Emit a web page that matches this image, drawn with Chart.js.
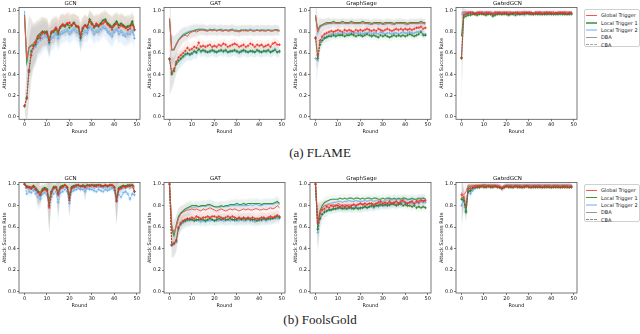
<!DOCTYPE html>
<html>
<head>
<meta charset="utf-8">
<script src="https://cdn.jsdelivr.net/npm/chart.js"></script>
<style>
  body { margin: 0; background: #fff; width: 640px; height: 334px; overflow: hidden; position: relative; font-family: "DejaVu Sans", sans-serif; }
  canvas { position: absolute; }
  .caption { position: absolute; left: 0; width: 640px; text-align: center; font-family: "Liberation Serif", "Times New Roman", serif; font-size: 13px; line-height: 15px; color: #1a1a1a; }
  .legend { position: absolute; left: 584px; width: 56px; height: 38px; box-sizing: border-box; border: 1px solid #d0d0d0; border-radius: 2px; padding-top: 1.5px; background: #fff; font-size: 5px; color: #222; }
  .legend div { height: 7.35px; display: flex; align-items: center; white-space: nowrap; }
  .sw { display: inline-block; width: 11px; margin: 0 4px 0 1px; }
</style>
</head>
<body>
<div class="legend" style="top:9px">
  <div><span class="sw" style="border-top:1px solid #f25a50"></span>Global Trigger</div>
  <div><span class="sw" style="border-top:2px solid #6aaa6a"></span>Local Trigger 1</div>
  <div><span class="sw" style="border-top:2px solid #b4d6f6"></span>Local Trigger 2</div>
  <div><span class="sw" style="border-top:1px solid #999"></span>DBA</div>
  <div><span class="sw" style="border-top:1px dashed #aaa"></span>CBA</div>
</div>
<div class="legend" style="top:184px">
  <div><span class="sw" style="border-top:1px solid #f25a50"></span>Global Trigger</div>
  <div><span class="sw" style="border-top:1.5px solid #3c963c"></span>Local Trigger 1</div>
  <div><span class="sw" style="border-top:2px solid #b4d6f6"></span>Local Trigger 2</div>
  <div><span class="sw" style="border-top:1px solid #999"></span>DBA</div>
  <div><span class="sw" style="border-top:1px dashed #888"></span>CBA</div>
</div>
<div class="caption" style="top:145px">(a) FLAME</div>
<div class="caption" style="top:312px">(b) FoolsGold</div>

<script>
// rounds and ticks
const rounds = [0,1,2,3,4,5,6,7,8,9, 10,11,12,13,14,15,16,17,18,19, 20,21,22,23,24,25,26,27,28,29,
  30,31,32,33,34,35,36,37,38,39, 40,41,42,43,44,45,46,47,48,49];
const xTicks = [0, 10, 20, 30, 40, 50];
const yTicks = [0, 0.2, 0.4, 0.6, 0.8, 1.0];
const modelTitles = ['GCN', 'GAT', 'GraphSage', 'GatedGCN'];

// ---- (a) FLAME, values in percent ----
const fl_gcn_global_cba = [10,17,44,58,66,70,76,74,79,80, 78,72,80,81,84,80,85,87,86,88, 89,86,88,86,85,76,84,86,85,90, 87,85,88,86,87,88,90,87,85,82, 86,88,84,86,85,84,82,83,87,82];
const fl_gcn_local1_cba = [10,18,43,62,67,68,74,77,80,79, 80,70,79,80,82,78,84,86,85,87, 84,86,89,85,84,74,83,86,84,92, 88,84,86,85,88,91,92,88,86,84, 87,90,86,88,86,84,85,86,90,82];
const fl_gcn_local2_cba = [10,17,42,60,64,66,70,72,74,76, 75,68,74,75,78,74,78,79,80,81, 78,80,82,80,79,72,78,80,79,84, 82,78,80,80,82,84,83,80,78,76, 80,82,78,80,77,76,78,78,80,74];
const fl_gcn_global_dba = [95,55,66,68,68,72,76,78,80,81, 80,74,80,82,85,82,86,88,87,89, 88,87,88,86,86,78,85,87,86,91, 88,86,88,87,88,89,90,88,86,84, 86,89,86,87,86,85,84,85,88,84];
const fl_gcn_local1_dba = [96,52,65,67,69,72,77,79,81,80, 81,73,81,81,84,80,85,87,86,88, 86,87,89,86,85,77,84,87,85,92, 89,85,87,86,89,91,92,89,87,85, 88,90,87,88,87,85,86,86,90,84];
const fl_gcn_local2_dba = [100,50,66,67,67,70,73,75,77,78, 77,70,76,77,80,76,80,81,82,83, 80,82,84,82,81,74,80,82,81,86, 84,80,82,82,84,86,85,82,80,78, 82,84,80,82,79,78,80,80,82,76];
const fl_gcn_std = [5,25,30,25,20,18,15,15,14,13, 13,14,12,12,11,12,11,10,10,10, 10,10,9,10,10,12,10,10,9,9, 10,10,9,10,10,9,9,10,10,11, 10,9,10,10,10,10,11,10,9,10];

const fl_gat_global_cba = [55,42,45,52,56,58,60,62,65,63, 64,66,65,70,66,67,66,67,68,66, 67,66,68,67,69,68,66,67,68,69, 68,66,67,68,66,67,69,68,66,68, 67,68,66,67,68,66,69,70,68,68];
const fl_gat_local1_cba = [54,40,43,50,53,55,57,59,60,59, 60,62,61,64,62,63,62,61,62,63, 62,61,62,63,62,63,61,62,62,63, 62,61,62,63,62,61,62,62,61,63, 62,61,62,62,63,61,62,63,61,62];
const fl_gat_local2_cba = [55,41,44,50,52,54,56,58,59,58, 59,61,60,63,61,62,61,61,61,62, 61,61,62,62,61,62,61,61,62,62, 61,60,61,62,61,61,62,61,61,62, 61,61,62,61,62,61,62,64,61,61];
const fl_gat_global_dba = [93,63,64,68,72,74,76,77,76,79, 80,81,80,81,82,82,81,81,82,81, 82,81,82,81,81,82,81,81,82,81, 81,80,81,82,81,81,82,81,81,82, 81,81,82,81,82,81,81,82,81,81];
const fl_gat_local1_dba = [92,63,63,68,72,75,77,78,79,80, 81,81,82,82,82,82,82,81,82,82, 82,81,82,82,81,82,81,82,82,81, 81,81,82,81,82,81,82,81,81,82, 81,82,81,81,82,81,81,82,82,81];
const fl_gat_local2_dba = [93,63,64,69,73,75,78,79,80,81, 81,82,82,83,83,83,82,82,83,82, 83,82,82,83,82,82,82,82,83,82, 82,81,82,82,82,82,83,82,82,82, 82,82,82,82,82,82,82,82,82,82];
const fl_gat_std = [35,15,12,10,8,8,7,7,6,6, 6,6,6,5,5,5,5,5,5,5, 5,5,5,5,5,5,5,5,5,5, 5,5,5,5,5,5,5,5,5,5, 5,5,5,5,5,5,5,5,5,5];

const fl_sage_global_cba = [75,58,72,76,78,79,80,81,80,81, 82,81,80,82,81,82,81,80,82,81, 82,81,82,83,82,81,82,81,83,82, 81,82,83,82,81,82,83,82,83,82, 83,82,83,82,83,84,84,85,83,84];
const fl_sage_local1_cba = [74,55,68,72,74,75,76,76,77,76, 77,77,77,76,77,77,78,77,76,77, 77,76,77,78,77,76,77,76,75,77, 76,77,76,75,76,77,76,77,76,77, 76,77,78,77,76,77,78,80,77,77];
const fl_sage_local2_cba = [55,53,70,74,75,76,77,78,78,78, 79,78,78,79,78,79,79,78,79,79, 79,78,79,79,80,78,79,79,78,80, 79,78,79,79,78,79,79,78,79,80, 79,79,80,79,79,80,80,81,78,78];
const fl_sage_global_dba = [96,80,85,86,87,88,88,88,89,88, 88,88,89,88,88,88,89,88,88,88, 88,89,88,88,88,87,88,88,88,88, 87,88,88,88,88,87,88,88,88,88, 88,87,88,88,88,88,88,89,88,88];
const fl_sage_local1_dba = [95,82,86,87,88,89,89,89,90,89, 89,89,90,89,89,89,90,89,89,89, 89,90,89,89,89,88,89,89,89,89, 88,89,89,89,89,88,89,89,89,89, 89,88,89,89,89,89,89,90,89,89];
const fl_sage_local2_dba = [96,78,84,86,87,87,88,88,88,88, 88,88,88,88,88,88,88,88,88,88, 88,88,88,88,87,87,88,88,87,88, 87,87,88,88,87,87,88,88,88,88, 87,87,88,88,88,88,88,88,88,87];
const fl_sage_std = [25,12,8,6,5,5,5,4,4,4, 4,4,4,4,4,4,4,4,4,4, 4,4,4,4,4,4,4,4,4,4, 4,4,4,4,4,4,4,4,4,4, 4,4,4,4,4,4,4,4,4,4];

const fl_ggcn_global_cba = [56,96,97,98,98,98,97,98,98,98, 97,98,98,97,97,98,98,98,97,98, 98,97,98,98,98,98,97,98,98,98, 98,98,97,98,98,98,97,98,98,98, 98,97,98,98,98,98,98,97,98,98];
const fl_ggcn_local1_cba = [55,94,95,96,96,97,97,96,97,97, 97,96,97,97,95,96,97,97,97,97, 97,96,97,97,96,97,97,97,97,98, 97,97,97,97,97,97,97,97,97,97, 97,97,97,97,97,97,97,97,97,97];
const fl_ggcn_local2_cba = [56,98,97,97,98,98,97,97,98,98, 97,97,98,97,97,98,97,98,97,98, 97,97,98,97,98,97,97,98,97,97, 98,97,97,98,97,97,98,97,97,98, 97,98,97,97,98,97,97,98,97,97];
const fl_ggcn_global_dba = [98,99,99,99,99,99,98,99,99,99, 99,99,99,99,98,99,99,99,99,99, 99,99,99,98,99,99,99,99,99,99, 99,99,98,99,99,99,99,99,99,99, 99,99,98,99,99,99,99,99,99,99];
const fl_ggcn_local1_dba = [76,97,98,98,98,98,97,98,98,98, 98,97,98,98,96,97,98,98,98,98, 98,98,97,98,98,98,98,98,97,98, 98,98,98,98,98,98,98,98,98,98, 98,98,98,98,98,98,98,98,98,98];
const fl_ggcn_local2_dba = [96,99,98,98,99,99,98,98,99,99, 98,99,98,99,98,99,98,99,98,99, 98,99,98,99,98,99,98,98,99,98, 99,98,98,99,98,99,98,98,99,98, 98,99,98,98,99,98,99,98,98,99];
const fl_ggcn_std = [45,4,3,2,2,2,2,2,2,2, 2,2,2,2,3,2,2,2,2,2, 2,2,2,2,2,2,2,2,3,2, 2,2,2,2,2,2,2,2,2,2, 2,2,2,2,2,2,2,2,2,2];

// ---- (b) FoolsGold, values in percent ----
const fg_gcn_global_cba = [100,97,97,96,98,95,92,90,94,95, 94,78,92,96,97,90,96,97,99,97, 85,96,97,98,99,98,98,97,99,98, 99,98,98,99,98,98,99,98,99,99, 97,84,95,96,98,97,98,98,99,93];
const fg_gcn_local1_cba = [100,98,97,96,98,95,93,90,94,96, 95,80,93,97,97,91,97,98,99,97, 87,97,98,99,99,98,99,98,99,99, 99,99,99,99,99,98,99,98,99,99, 97,85,96,97,98,98,99,99,99,93];
const fg_gcn_local2_cba = [100,91,93,92,94,91,88,86,91,92, 90,80,88,91,93,83,92,93,95,93, 82,93,94,95,96,95,95,93,96,95, 95,94,93,95,94,93,95,94,95,96, 94,84,90,88,92,93,91,86,91,90];
const fg_gcn_global_dba = [100,98,97,98,97,96,93,91,95,96, 95,82,93,97,98,92,97,98,99,98, 88,97,98,99,99,98,99,97,99,98, 99,98,99,99,99,98,99,98,99,99, 98,86,96,97,98,98,99,98,99,97];
const fg_gcn_local1_dba = [100,98,98,97,99,97,94,92,96,97, 96,85,94,98,98,93,98,99,99,98, 90,98,99,99,99,98,99,98,99,99, 99,99,99,99,99,98,99,99,99,99, 98,87,97,98,99,98,99,99,99,98];
const fg_gcn_local2_dba = [100,96,95,95,96,94,91,88,93,94, 93,82,91,95,96,89,95,96,97,96, 86,95,96,97,97,96,97,95,97,96, 97,96,97,97,97,96,97,96,97,97, 96,85,94,95,96,96,97,96,97,95];
const fg_gcn_std = [1,3,4,4,3,5,12,8,5,4, 6,25,8,4,3,20,5,3,2,3, 15,4,3,2,2,3,2,10,2,2, 2,3,2,2,2,3,2,2,2,2, 4,22,5,4,3,3,2,4,2,5];

const fg_gat_global_cba = [100,43,45,48,60,64,66,67,68,68, 69,68,70,69,68,69,69,70,69,70, 70,69,70,69,68,69,70,69,70,69, 68,69,68,69,68,69,68,69,68,68, 68,69,69,68,69,70,69,70,71,70];
const fg_gat_local1_cba = [100,44,45,47,59,63,65,66,67,67, 67,66,67,67,67,67,66,67,68,67, 66,67,68,67,68,67,67,68,67,67, 67,68,67,68,67,68,67,67,67,66, 67,67,68,67,68,68,68,69,70,69];
const fg_gat_local2_cba = [100,43,44,46,58,62,64,65,66,66, 67,66,66,66,65,66,65,66,66,67, 66,66,66,67,66,66,67,66,67,66, 66,66,67,66,66,67,66,66,65,66, 66,66,67,66,67,67,68,68,68,68];
const fg_gat_global_dba = [100,62,55,60,68,72,74,75,76,76, 77,76,77,76,75,77,76,77,78,77, 76,75,76,77,76,75,76,77,76,77, 76,75,76,77,76,77,76,76,77,77, 76,76,77,76,77,78,77,78,80,78];
const fg_gat_local1_dba = [100,58,52,62,70,73,75,77,78,79, 80,80,80,79,80,80,80,81,81,80, 79,79,79,80,79,80,80,81,81,81, 82,81,81,82,81,82,82,82,82,82, 82,81,82,82,82,82,82,83,84,82];
const fg_gat_local2_dba = [100,60,54,61,70,73,74,76,77,78, 78,78,79,79,79,80,79,80,80,80, 79,78,78,79,79,79,79,80,80,80, 80,80,80,80,80,80,81,80,81,81, 80,80,81,81,81,81,81,82,83,81];
const fg_gat_std = [1,12,12,10,8,7,6,6,6,6, 5,5,5,5,5,5,5,5,5,5, 5,5,5,5,5,5,5,5,5,5, 5,5,5,5,5,5,5,5,5,5, 5,5,5,5,5,5,5,5,5,5];

const fg_sage_global_cba = [100,64,72,76,77,79,78,80,79,80, 80,79,80,79,80,79,80,81,80,81, 82,81,82,81,82,82,81,82,83,84, 82,83,82,84,82,83,84,82,84,85, 83,82,83,84,82,84,83,85,84,85];
const fg_sage_local1_cba = [100,58,68,72,74,75,76,76,77,77, 78,78,77,78,77,78,78,77,78,77, 78,78,79,78,79,80,79,80,80,81, 80,81,80,81,82,81,80,81,82,80, 81,80,80,79,80,78,79,78,79,78];
const fg_sage_local2_cba = [100,55,68,72,74,75,76,76,77,77, 77,78,78,77,78,78,77,78,79,78, 77,78,79,78,79,79,78,80,79,80, 81,80,81,80,81,82,81,82,81,83, 82,82,83,82,81,83,82,84,83,83];
const fg_sage_global_dba = [100,62,74,78,80,80,81,80,81,80, 82,81,80,81,80,81,80,81,80,81, 82,81,80,81,82,81,80,82,81,83, 82,81,82,83,82,83,82,83,82,84, 83,82,84,83,82,84,85,84,85,84];
const fg_sage_local1_dba = [100,63,75,80,83,84,85,86,86,86, 86,87,86,87,86,87,87,86,87,87, 86,87,86,87,87,86,87,87,86,86, 87,86,87,87,86,87,86,87,86,87, 87,86,86,87,86,86,87,86,87,86];
const fg_sage_local2_dba = [100,60,72,78,80,81,82,82,83,83, 84,84,83,84,84,85,84,84,85,84, 84,84,85,84,85,85,84,85,85,84, 84,85,85,86,85,86,85,86,85,86, 86,85,86,85,86,85,86,87,87,86];
const fg_sage_std = [1,20,10,6,5,5,4,4,4,4, 4,4,4,4,4,4,4,4,4,4, 4,4,4,4,4,4,4,4,4,4, 4,4,4,4,4,4,4,4,4,4, 4,4,4,4,4,4,4,4,4,4];

const fg_ggcn_global_cba = [90,88,80,96,96,97,97,98,98,98, 98,98,98,98,98,98,98,97,96,97, 98,98,98,97,98,98,98,97,98,98, 98,97,98,98,98,98,97,98,98,98, 97,98,98,98,97,98,98,98,97,98];
const fg_ggcn_local1_cba = [86,85,74,93,94,96,97,97,97,98, 97,97,98,97,97,98,97,97,96,97, 98,97,97,97,98,97,97,97,97,98, 97,97,97,97,97,97,97,97,97,97, 97,97,97,97,97,97,97,97,97,97];
const fg_ggcn_local2_cba = [80,86,75,97,91,94,96,97,97,98, 98,98,98,98,98,98,98,97,96,97, 98,98,98,98,98,98,98,98,98,98, 98,98,98,98,98,98,98,98,98,98, 98,98,98,98,98,98,98,98,98,98];
const fg_ggcn_global_dba = [92,90,93,99,99,99,99,99,99,99, 100,99,99,99,99,99,99,99,97,99, 99,99,99,99,99,99,99,99,99,99, 99,99,99,99,99,99,99,99,99,99, 99,99,99,99,99,99,99,99,99,99];
const fg_ggcn_local1_dba = [88,86,75,97,98,98,99,99,99,99, 99,99,99,99,99,99,98,98,96,98, 99,99,99,99,99,99,99,99,99,99, 99,99,99,99,99,99,99,99,99,99, 99,99,99,99,99,99,99,99,99,99];
const fg_ggcn_local2_dba = [80,87,76,98,92,97,98,98,98,99, 99,99,99,99,99,99,99,98,97,98, 99,99,99,99,99,99,99,98,99,99, 99,99,99,99,99,99,99,99,99,99, 99,99,99,99,99,99,99,99,99,99];
const fg_ggcn_std = [25,8,10,3,4,3,2,2,2,2, 2,2,2,2,2,2,2,2,3,2, 2,2,2,2,2,2,2,2,2,2, 2,2,2,2,2,2,2,2,2,2, 2,2,2,2,2,2,2,2,2,2];

// line styles, same order as the series lists below
const lineStyles = [
  { color: 'rgb(235,45,35)',   width: 0.9, dash: [2, 1], marker: 1.4, band: 'rgba(235,120,110,0.10)' },
  { color: 'rgb(35,125,35)',   width: 0.9, dash: [2, 1], marker: 1.4, band: 'rgba(90,160,90,0.08)' },
  { color: 'rgb(110,175,235)', width: 0.9, dash: [2, 1], marker: 1.4, band: 'rgba(130,190,240,0.12)' },
  { color: 'rgb(240,90,80)',   width: 1.0, dash: [],     marker: 0,   band: 'rgba(235,120,110,0.08)' },
  { color: 'rgb(60,150,60)',   width: 1.1, dash: [],     marker: 0,   band: 'rgba(90,160,90,0.07)' },
  { color: 'rgb(130,190,240)', width: 1.1, dash: [],     marker: 0,   band: 'rgba(130,190,240,0.10)' }
];

const rows = [
  { top: 0,   height: 136, xHeight: 16.7, yMin: -0.025, yMax: 1.032 },
  { top: 175, height: 135, xHeight: 17,   yMin: -0.012, yMax: 1.015 }
];
const colLeft = [1, 146, 292, 438];

const panels = [
  { row: 0, col: 0, std: fl_gcn_std,  series: [fl_gcn_global_cba, fl_gcn_local1_cba, fl_gcn_local2_cba, fl_gcn_global_dba, fl_gcn_local1_dba, fl_gcn_local2_dba] },
  { row: 0, col: 1, std: fl_gat_std,  series: [fl_gat_global_cba, fl_gat_local1_cba, fl_gat_local2_cba, fl_gat_global_dba, fl_gat_local1_dba, fl_gat_local2_dba] },
  { row: 0, col: 2, std: fl_sage_std, series: [fl_sage_global_cba, fl_sage_local1_cba, fl_sage_local2_cba, fl_sage_global_dba, fl_sage_local1_dba, fl_sage_local2_dba] },
  { row: 0, col: 3, std: fl_ggcn_std, series: [fl_ggcn_global_cba, fl_ggcn_local1_cba, fl_ggcn_local2_cba, fl_ggcn_global_dba, fl_ggcn_local1_dba, fl_ggcn_local2_dba] },
  { row: 1, col: 0, std: fg_gcn_std,  series: [fg_gcn_global_cba, fg_gcn_local1_cba, fg_gcn_local2_cba, fg_gcn_global_dba, fg_gcn_local1_dba, fg_gcn_local2_dba] },
  { row: 1, col: 1, std: fg_gat_std,  series: [fg_gat_global_cba, fg_gat_local1_cba, fg_gat_local2_cba, fg_gat_global_dba, fg_gat_local1_dba, fg_gat_local2_dba] },
  { row: 1, col: 2, std: fg_sage_std, series: [fg_sage_global_cba, fg_sage_local1_cba, fg_sage_local2_cba, fg_sage_global_dba, fg_sage_local1_dba, fg_sage_local2_dba] },
  { row: 1, col: 3, std: fg_ggcn_std, series: [fg_ggcn_global_cba, fg_ggcn_local1_cba, fg_ggcn_local2_cba, fg_ggcn_global_dba, fg_ggcn_local1_dba, fg_ggcn_local2_dba] }
];

Chart.defaults.font.family = '"DejaVu Sans", sans-serif';
Chart.defaults.color = '#111';

// box around the plot area, like matplotlib spines
const framePlugin = {
  id: 'frame',
  afterDraw(chart) {
    const ctx = chart.ctx, a = chart.chartArea;
    ctx.save();
    ctx.strokeStyle = '#555';
    ctx.lineWidth = 0.8;
    ctx.strokeRect(a.left, a.top, a.right - a.left, a.bottom - a.top);
    ctx.restore();
  }
};

function makePanel(p) {
  const row = rows[p.row];
  const canvas = document.createElement('canvas');
  canvas.width = 145;
  canvas.height = row.height;
  canvas.style.left = colLeft[p.col] + 'px';
  canvas.style.top = row.top + 'px';
  document.body.appendChild(canvas);

  const lineSets = [];
  const bandSets = [];
  p.series.forEach(function (vals, k) {
    const st = lineStyles[k];
    lineSets.push({
      data: rounds.map((r, i) => ({ x: r, y: vals[i] / 100 })),
      borderColor: st.color, borderWidth: st.width, borderDash: st.dash,
      pointStyle: 'cross', pointRadius: st.marker, pointBorderColor: st.color, pointBorderWidth: 0.7,
      fill: false, tension: 0
    });
    bandSets.push({
      data: rounds.map((r, i) => ({ x: r, y: (vals[i] + p.std[i]) / 100 })),
      borderColor: 'transparent', borderWidth: 0, pointRadius: 0, fill: false
    });
    bandSets.push({
      data: rounds.map((r, i) => ({ x: r, y: (vals[i] - p.std[i]) / 100 })),
      borderColor: 'transparent', borderWidth: 0, pointRadius: 0, fill: '-1', backgroundColor: st.band
    });
  });

  const tickFont = { size: 5 };
  new Chart(canvas.getContext('2d'), {
    type: 'line',
    data: { datasets: lineSets.concat(bandSets) },
    options: {
      responsive: false,
      animation: false,
      events: [],
      layout: { padding: { top: 0, right: 6, bottom: 0, left: 0 } },
      plugins: {
        legend: { display: false },
        tooltip: { enabled: false },
        title: { display: true, text: modelTitles[p.col], color: '#111', font: { size: 5.5, weight: 'normal', lineHeight: 1 }, padding: { top: 1, bottom: 1 } }
      },
      scales: {
        x: {
          type: 'linear', min: -2.45, max: 51.45,
          afterBuildTicks: s => { s.ticks = xTicks.map(v => ({ value: v })); },
          afterFit: s => { s.height = row.xHeight; },
          ticks: { font: tickFont, padding: 0.5, maxRotation: 0, autoSkip: false, callback: v => String(v) },
          grid: { drawOnChartArea: false, tickLength: 2, color: '#444', lineWidth: 0.7 },
          border: { display: false },
          title: { display: true, text: 'Round', font: { size: 5, lineHeight: 1 }, padding: { top: 0, bottom: 2 } }
        },
        y: {
          min: row.yMin, max: row.yMax,
          afterBuildTicks: s => { s.ticks = yTicks.map(v => ({ value: v })); },
          afterFit: s => { s.width = 18; },
          ticks: { font: tickFont, padding: 1, callback: v => v.toFixed(1) },
          grid: { drawOnChartArea: false, tickLength: 2, color: '#444', lineWidth: 0.7 },
          border: { display: false },
          title: { display: true, text: 'Attack Success Rate', font: { size: 5, lineHeight: 1 }, padding: { top: 1, bottom: 0 } }
        }
      }
    },
    plugins: [framePlugin]
  });
}

panels.forEach(makePanel);
</script>
</body>
</html>
